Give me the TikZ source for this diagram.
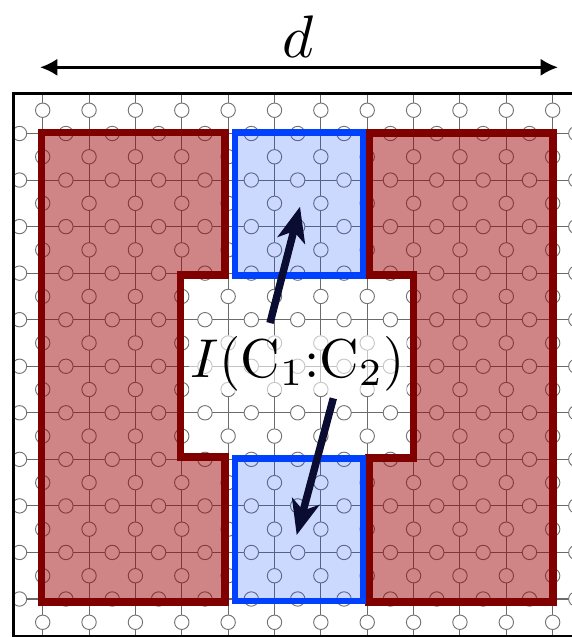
\documentclass[tikz,border=0pt]{standalone}
\usetikzlibrary{arrows.meta}
\definecolor{latgray}{gray}{0.42}
\definecolor{circgray}{gray}{0.45}
\definecolor{redline}{RGB}{128,0,0}
\definecolor{redfill}{RGB}{155,0,0}
\definecolor{blueline}{RGB}{0,64,255}
\definecolor{bluefill}{RGB}{0,64,255}
\definecolor{arrowcol}{RGB}{10,12,50}
\tikzset{
  latline/.style={draw=latgray, line width=0.8pt},
  qubit/.style={draw=circgray, fill=white, line width=0.7pt},
  redreg/.style={draw=redline, line width=5.4pt, fill=redfill, fill opacity=0.48},
  bluereg/.style={draw=blueline, line width=4.6pt, fill=bluefill, fill opacity=0.2},
  ptr/.style={draw=arrowcol, line width=5.6pt, -{Stealth[length=26pt,width=21pt,inset=7pt]}},
  dimarrow/.style={draw=black, line width=2.25pt, {Latex[length=13pt,width=13pt]}-{Latex[length=13pt,width=13pt]}},
  bigtext/.style={scale=4.1},
  dimtext/.style={scale=4.5},
}
\begin{document}
\begin{tikzpicture}[x=0.75pt,y=-0.75pt]
\useasboundingbox (0,0) rectangle (572,637);
\clip (0,0) rectangle (572,637);
% lattice
\begin{scope}
\clip (13.3,93.3) rectangle (580,640);
\foreach \i in {0,...,11} \draw[latline] ({42.7+46.36*\i},90) -- ({42.7+46.36*\i},640);
\foreach \j in {0,...,10} \draw[latline] (10,{133.5+46.55*\j}) -- (580,{133.5+46.55*\j});
\foreach \i in {0,...,11} \foreach \j in {-1,...,10}
  \draw[qubit] ({42.7+46.36*\i},{133.5+46.55*(\j+0.5)}) circle[radius=5.4pt];
\foreach \i in {-1,...,11} \foreach \j in {0,...,10}
  \draw[qubit] ({42.7+46.36*(\i+0.5)},{133.5+46.55*\j}) circle[radius=5.4pt];
\end{scope}
% regions
\draw[redreg] (41.5,132.5) -- (225,132.5) -- (225,275) -- (180.5,275) -- (180.5,457) -- (225,457) -- (225,602) -- (41.5,602) -- cycle;
\draw[redreg] (369,133) -- (553,133) -- (553,602) -- (369,602) -- (369,458) -- (413.3,458) -- (413.3,275) -- (369,275) -- cycle;
\draw[bluereg] (234.7,132.5) rectangle (363.2,275.5);
\draw[bluereg] (234.7,458.5) rectangle (363.2,601);
% frame
\draw[line width=2.25pt] (600,93.3) -- (13.3,93.3) -- (13.3,636.5) -- (600,636.5);
% label and arrows
\node[bigtext, fill=white, fill opacity=0.6, text opacity=1, inner sep=0.3pt] (mi) at (298,364) {$I(\mathrm{C}_1{:}\mathrm{C}_2)$};
\coordinate (t1) at (270,323);
\coordinate (h1) at (300,206.7);
\coordinate (t2) at (333.3,398.3);
\coordinate (h2) at (296.7,535);
\draw[ptr] (t1) -- (h1);
\draw[ptr] (t2) -- (h2);
% dimension
\coordinate (al) at (40,67.3);
\coordinate (ar) at (558,67.3);
\draw[dimarrow] (al) -- (ar);
\node[dimtext, anchor=base, inner sep=0pt] (dl) at (298,57) {$d$};
\end{tikzpicture}
\end{document}
